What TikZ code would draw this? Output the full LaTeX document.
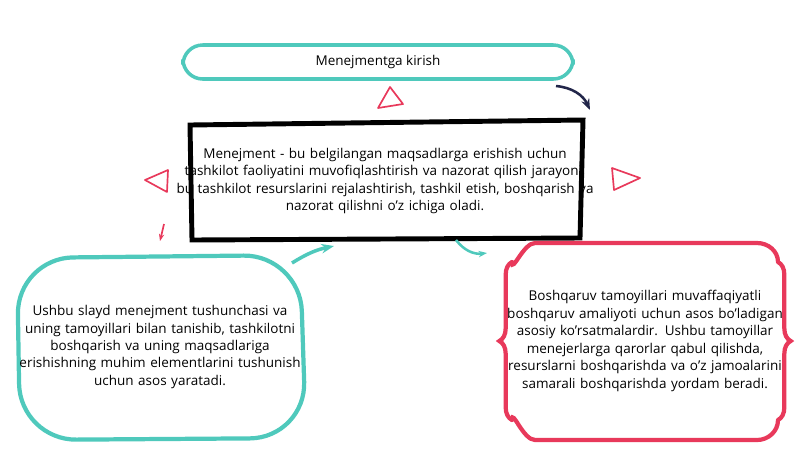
\documentclass[tikz,border=0pt]{standalone}
\usepackage{fontspec}
\setmainfont{Open Sans}
\usetikzlibrary{positioning,arrows.meta,decorations.pathreplacing}
\definecolor{tealc}{HTML}{4FC9BC}
\definecolor{redc}{HTML}{E8395B}
\definecolor{navyc}{HTML}{22264A}
\newcommand\ap{\char"27\relax}
\begin{document}
\begin{tikzpicture}[x=0.025cm,y=-0.025cm,
  txt/.style={align=center,font=\fontsize{9.6}{12.4}\selectfont},
  tri/.style={draw=redc,line width=1.2pt,fill=white,line join=round}]
\useasboundingbox (0,0) rectangle (800,450);
% top box
\draw[tealc,line width=2.5pt,rounded corners=14pt] (183,45) rectangle (573,79);
\node[txt] (title) at (378,62) {Menejmentga kirish};
% main box
\draw[black,line width=3.5pt] (190,125) -- (583,120) -- (580,238) -- (192,240) -- cycle;
\node[txt,text width=11cm] (main) at (385,181) {Menejment - bu belgilangan maqsadlarga erishish uchun\\tashkilot faoliyatini muvofiqlashtirish va nazorat qilish jarayoni,\\bu tashkilot resurslarini rejalashtirish, tashkil etish, boshqarish va\\nazorat qilishni o\ap z ichiga oladi.};
% left box
\draw[tealc,line width=3pt,rounded corners=40pt] (17,258) -- (300,255) -- (306,438) -- (20,440) -- cycle;
\node[txt,text width=7.1cm] (left) at (160,347) {Ushbu slayd menejment tushunchasi va\\uning tamoyillari bilan tanishib, tashkilotni\\boshqarish va uning maqsadlariga\\erishishning muhim elementlarini tushunish\\uchun asos yaratadi.};
% right box
\draw[redc,line width=3pt,line cap=round] (512,262) to[out=-90,in=180] (535,243) -- (757,243) to[out=0,in=90] (778,262);
\draw[redc,line width=3pt,line cap=round] (512,420) to[out=90,in=180] (535,440) -- (757,440) to[out=0,in=-90] (778,420);
\draw[redc,line width=3pt,decorate,decoration={brace,amplitude=9pt}] (512,420) -- (512,262);
\draw[redc,line width=3pt,decorate,decoration={brace,amplitude=9pt}] (778,262) -- (778,420);
\node[txt,text width=6.9cm] (right) at (645,341) {Boshqaruv tamoyillari muvaffaqiyatli\\boshqaruv amaliyoti uchun asos bo\ap ladigan\\asosiy ko\ap rsatmalardir. Ushbu tamoyillar\\menejerlarga qarorlar qabul qilishda,\\resurslarni boshqarishda va o\ap z jamoalarini\\samarali boshqarishda yordam beradi.};
% arrows
\coordinate (a1) at (556,86); \coordinate (a2) at (590,110);
\draw[navyc,line width=1.8pt,-{Stealth[length=8pt]}] (a1) to[bend left=30] (a2);
\coordinate (b1) at (292,263); \coordinate (b2) at (334,246);
\draw[tealc,line width=2.5pt,-{Stealth[length=9pt]}] (b1) to[bend left=10] (b2);
\coordinate (c1) at (456,240); \coordinate (c2) at (487,253);
\draw[tealc,line width=1.8pt,-{Stealth[length=6pt]}] (c1) to[bend right=30] (c2);
\coordinate (d1) at (164,224); \coordinate (d2) at (160,241);
\draw[redc,line width=1.2pt,-{Stealth[length=5pt]}] (d1) -- (d2);
% triangles
\draw[tri] (378,108) -- (390,87) -- (403,104) -- cycle;
\draw[tri] (145,180) -- (168,170) -- (167,192) -- cycle;
\draw[tri] (612,168) -- (640,178) -- (614,190) -- cycle;
\end{tikzpicture}
\end{document}
